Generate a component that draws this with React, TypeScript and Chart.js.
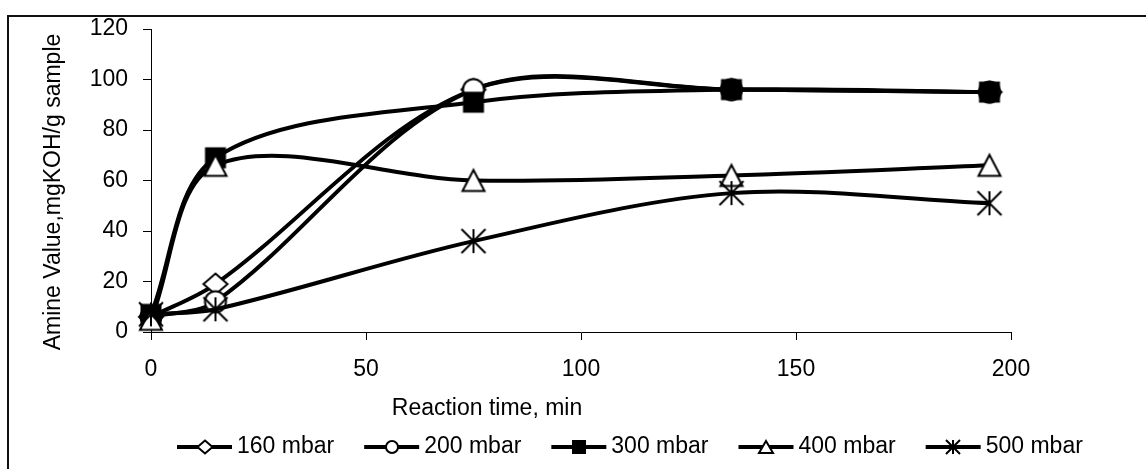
import { useEffect, useRef } from "react";
import { Chart, registerables } from "chart.js";
Chart.register(...registerables);

const timeMin = [0, 15, 75, 135, 195];
const seriesNames = ["160 mbar", "200 mbar", "300 mbar", "400 mbar", "500 mbar"];
const amine160 = [6, 19, 96, 96, 95];
const amine200 = [6, 12, 96, 96, 95];
const amine300 = [7, 69, 91, 96, 95];
const amine400 = [5, 66, 60, 62, 66];
const amine500 = [7, 9, 36, 55, 51];
const xTicks = [0, 50, 100, 150, 200];
const yTicks = [0, 20, 40, 60, 80, 100, 120];
const xTitle = "Reaction time, min";
const yTitle = "Amine Value,mgKOH/g sample";

type Kind = "diamond" | "circle" | "square" | "triangle" | "star";
const markerKinds: Kind[] = ["diamond", "circle", "square", "triangle", "star"];

const FONT = '"Liberation Sans", Arial, sans-serif';

function makeMarker(kind: Kind, w: number, h: number, lw: number): HTMLCanvasElement {
  const pad = lw + 1;
  const c = document.createElement("canvas");
  let cw = Math.ceil(w + 2 * pad);
  let ch = Math.ceil(h + 2 * pad);
  if (cw % 2) cw++;
  if (ch % 2) ch++;
  c.width = cw;
  c.height = ch;
  const ctx = c.getContext("2d")!;
  const cx = cw / 2;
  const cy = ch / 2;
  ctx.lineWidth = lw;
  ctx.strokeStyle = "#000";
  ctx.fillStyle = "#fff";
  ctx.lineJoin = "miter";
  ctx.beginPath();
  switch (kind) {
    case "diamond":
      ctx.moveTo(cx, cy - h / 2);
      ctx.lineTo(cx + w / 2, cy);
      ctx.lineTo(cx, cy + h / 2);
      ctx.lineTo(cx - w / 2, cy);
      ctx.closePath();
      ctx.fill();
      ctx.stroke();
      break;
    case "circle":
      ctx.arc(cx, cy, w / 2, 0, Math.PI * 2);
      ctx.fill();
      ctx.stroke();
      break;
    case "square":
      ctx.rect(cx - w / 2, cy - h / 2, w, h);
      ctx.fillStyle = "#000";
      ctx.fill();
      ctx.stroke();
      break;
    case "triangle":
      ctx.moveTo(cx, cy - h / 2);
      ctx.lineTo(cx + w / 2, cy + h / 2);
      ctx.lineTo(cx - w / 2, cy + h / 2);
      ctx.closePath();
      ctx.fill();
      ctx.stroke();
      break;
    case "star":
      ctx.moveTo(cx, cy - h / 2);
      ctx.lineTo(cx, cy + h / 2);
      ctx.moveTo(cx - w / 2, cy - h / 2);
      ctx.lineTo(cx + w / 2, cy + h / 2);
      ctx.moveTo(cx + w / 2, cy - h / 2);
      ctx.lineTo(cx - w / 2, cy + h / 2);
      ctx.stroke();
      break;
  }
  return c;
}

const chartSizes: Record<Kind, [number, number]> = {
  diamond: [24, 21],
  circle: [21, 21],
  square: [19, 19],
  triangle: [22, 21],
  star: [24, 24],
};
const legendSizes: Record<Kind, [number, number]> = {
  diamond: [15, 13],
  circle: [12, 12],
  square: [12, 12],
  triangle: [14, 12],
  star: [14, 14],
};

export default function App() {
  const ref = useRef<HTMLCanvasElement | null>(null);

  useEffect(() => {
    if (!ref.current) return;
    const seriesValues = [amine160, amine200, amine300, amine400, amine500];
    const chartMarkers = markerKinds.map((k) => makeMarker(k, chartSizes[k][0], chartSizes[k][1], 2));
    const legendMarkers = markerKinds.map((k) => makeMarker(k, legendSizes[k][0], legendSizes[k][1], 2));

    const decor = {
      id: "decor",
      afterDraw(chart: any) {
        const ctx = chart.ctx as CanvasRenderingContext2D;
        ctx.save();
        // frame
        ctx.fillStyle = "#111";
        ctx.fillRect(7, 15, 1146 - 7, 2);
        ctx.fillRect(7, 15, 2, 469 - 15);
        // axis titles
        ctx.fillStyle = "#000";
        ctx.font = `23px ${FONT}`;
        ctx.textAlign = "center";
        ctx.textBaseline = "middle";
        ctx.fillText(xTitle, 487, 409);
        ctx.save();
        ctx.translate(54, 192);
        ctx.rotate(-Math.PI / 2);
        ctx.fillText(yTitle, 0, 0);
        ctx.restore();
        // legend
        const y = 447;
        let x = 177;
        ctx.textAlign = "left";
        chart.data.datasets.forEach((ds: any, i: number) => {
          ctx.strokeStyle = "#000";
          ctx.lineWidth = 4;
          ctx.beginPath();
          ctx.moveTo(x, y);
          ctx.lineTo(x + 55, y);
          ctx.stroke();
          const m = legendMarkers[i];
          ctx.drawImage(m, Math.round(x + 27.5 - m.width / 2), Math.round(y - m.height / 2));
          ctx.fillStyle = "#000";
          ctx.fillText(ds.label, x + 60, y);
          x += 60 + ctx.measureText(ds.label).width + 30;
        });
        ctx.restore();
      },
    };

    const chart = new Chart(ref.current, {
      type: "line",
      data: {
        datasets: seriesNames.map((name, i) => ({
          label: name,
          data: timeMin.map((t, j) => ({ x: t, y: seriesValues[i][j] })),
          borderColor: "#000",
          borderWidth: 4,
          tension: 0.33,
          fill: false,
          pointStyle: chartMarkers[i],
          pointRadius: 11,
          pointHoverRadius: 11,
          clip: false as any,
          order: seriesNames.length - i,
        })),
      },
      options: {
        animation: false,
        responsive: false,
        events: [],
        layout: { padding: { top: 29, right: 135, left: 0, bottom: 0 } },
        plugins: { legend: { display: false }, tooltip: { enabled: false }, title: { display: false } },
        scales: {
          x: {
            type: "linear",
            min: 0,
            max: 200,
            afterBuildTicks: (s: any) => {
              s.ticks = xTicks.map((v) => ({ value: v }));
            },
            afterFit: (s: any) => {
              s.height = 137;
            },
            ticks: { color: "#000", font: { family: FONT, size: 23 }, padding: 16, maxRotation: 0 },
            grid: { drawOnChartArea: false, drawTicks: true, tickLength: 8, color: "#000" },
            border: { display: true, color: "#000", width: 1 },
          },
          y: {
            type: "linear",
            min: 0,
            max: 120,
            afterBuildTicks: (s: any) => {
              s.ticks = yTicks.map((v) => ({ value: v }));
            },
            afterFit: (s: any) => {
              s.width = 151;
            },
            ticks: { color: "#000", font: { family: FONT, size: 23 }, padding: 15 },
            grid: { drawOnChartArea: false, drawTicks: true, tickLength: 8, color: "#000" },
            border: { display: true, color: "#000", width: 1 },
          },
        },
      },
      plugins: [decor],
    } as any);
    return () => chart.destroy();
  }, []);

  return (
    <div style={{ position: "absolute", left: 0, top: 0, width: 1146, height: 469, background: "#fff" }}>
      <canvas ref={ref} width={1146} height={469} style={{ display: "block" }} />
    </div>
  );
}
